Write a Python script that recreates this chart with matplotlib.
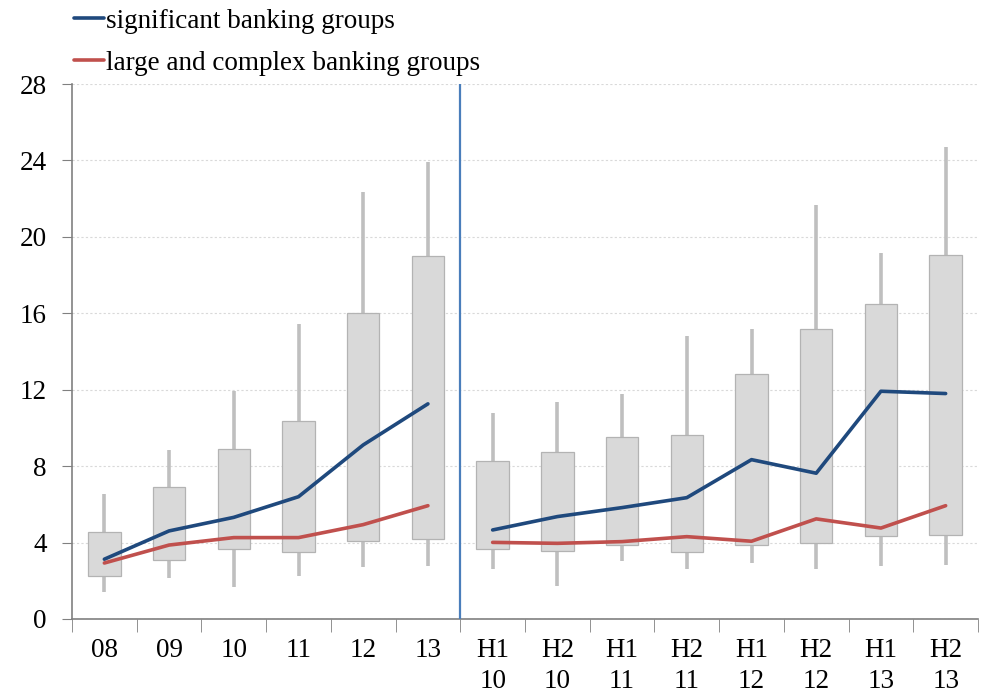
import matplotlib
matplotlib.use("Agg")
import matplotlib.pyplot as plt
import numpy as np

categories = ["08", "09", "10", "11", "12", "13",
              "H1\n10", "H2\n10", "H1\n11", "H2\n11", "H1\n12", "H2\n12", "H1\n13", "H2\n13"]
whisker_low = [1.40, 2.13, 1.69, 2.25, 2.71, 2.76, 2.62, 1.75, 3.05, 2.64, 2.95, 2.62, 2.79, 2.84]
box_low = [2.27, 3.07, 3.65, 3.51, 4.07, 4.17, 3.66, 3.56, 3.86, 3.51, 3.86, 3.96, 4.33, 4.38]
box_high = [4.57, 6.93, 8.92, 10.37, 16.04, 19.02, 8.29, 8.73, 9.55, 9.62, 12.83, 15.18, 16.49, 19.06]
whisker_high = [6.56, 8.85, 11.94, 15.43, 22.34, 23.93, 10.77, 11.38, 11.78, 14.82, 15.20, 21.68, 19.16, 24.68]
significant = [3.13, 4.61, 5.32, 6.40, 9.11, 11.26, 4.66, 5.36, 5.83, 6.35, 8.34, 7.63, 11.92, 11.80]
large_complex = [2.93, 3.87, 4.26, 4.26, 4.94, 5.93, 4.01, 3.96, 4.05, 4.31, 4.07, 5.24, 4.76, 5.93]
n_annual = 6
yticks = [0, 4, 8, 12, 16, 20, 24, 28]

serif = ["Liberation Serif", "DejaVu Serif"]
plt.rcParams["font.family"] = serif
FS = 19.5

fig = plt.figure(figsize=(9.91, 6.93), dpi=100)
ax = fig.add_axes([72/991, 74/693, (978-72)/991, 535/693])

x = np.arange(len(categories))
blue = "#1f497d"
red = "#c0504d"
grey_w = "#bfbfbf"

for i in range(len(categories)):
    ax.plot([x[i], x[i]], [whisker_low[i], box_low[i]], color=grey_w, lw=2.6, zorder=2, solid_capstyle="butt")
    ax.plot([x[i], x[i]], [box_high[i], whisker_high[i]], color=grey_w, lw=2.6, zorder=2, solid_capstyle="butt")
ax.bar(x, np.array(box_high) - np.array(box_low), bottom=box_low, width=0.5,
       color="#d9d9d9", edgecolor="#b3b3b3", linewidth=0.9, zorder=3)

segs = [slice(0, n_annual), slice(n_annual, len(categories))]
for k, s in enumerate(segs):
    ax.plot(x[s], significant[s], color=blue, lw=2.6, zorder=5,
            label="significant banking groups" if k == 0 else None, solid_capstyle="round")
    ax.plot(x[s], large_complex[s], color=red, lw=2.6, zorder=5,
            label="large and complex banking groups" if k == 0 else None, solid_capstyle="round")

ax.axvline(n_annual - 0.5, color="#4a7ebb", lw=1.6, zorder=6)

ax.set_xlim(-0.5, len(categories) - 0.5)
ax.set_ylim(0, 28)
ax.set_yticks(yticks)
ax.set_yticklabels([str(v) for v in yticks], fontsize=FS)
ax.yaxis.grid(True, color="#d9d9d9", linestyle=(0, (2, 2)), lw=0.8)
ax.set_axisbelow(True)

ax.set_xticks(x)
ax.set_xticklabels(categories, fontsize=FS, linespacing=1.28)
ax.set_xticks(np.arange(-0.5, len(categories)), minor=True)
ax.tick_params(axis="x", which="major", length=0, pad=14)
ax.tick_params(axis="x", which="minor", length=9, color="#808080", direction="out")
ax.tick_params(axis="y", length=7, color="#808080", direction="out", pad=11)

for sp in ["top", "right"]:
    ax.spines[sp].set_visible(False)
for sp in ["left", "bottom"]:
    ax.spines[sp].set_color("#808080")
    ax.spines[sp].set_linewidth(1.2)

leg = fig.legend(loc="upper left", bbox_to_anchor=(63/991, 1.0 + 2/693), frameon=False,
                 fontsize=FS, handlelength=1.1, handletextpad=0.08, labelspacing=0.62,
                 borderaxespad=0.0)

fig.savefig("out.png", dpi=100)
